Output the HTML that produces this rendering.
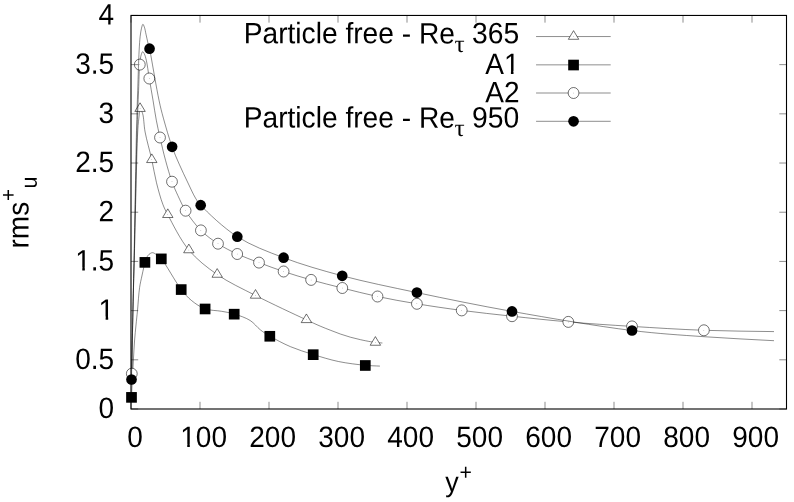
<!DOCTYPE html>
<html><head><meta charset="utf-8"><title>rms u+ profile</title>
<style>
html,body{margin:0;padding:0;background:#fff;}
body{width:794px;height:502px;overflow:hidden;}
svg{display:block;}
text{font-family:"Liberation Sans",sans-serif;font-size:28px;fill:#000;text-rendering:geometricPrecision;}
.sym{font-family:"Liberation Serif",serif;}
</style></head><body>
<svg width="794" height="502" viewBox="0 0 794 502">
<rect x="0" y="0" width="794" height="502" fill="#fff"/>
<text transform="translate(135.00,447.00) rotate(0.03) scale(1.000,1.055)" text-anchor="middle">0</text>
<text transform="translate(203.60,447.00) rotate(0.03) scale(1.000,1.055)" text-anchor="middle">100</text>
<text transform="translate(272.60,447.00) rotate(0.03) scale(1.000,1.055)" text-anchor="middle">200</text>
<text transform="translate(341.60,447.00) rotate(0.03) scale(1.000,1.055)" text-anchor="middle">300</text>
<text transform="translate(410.60,447.00) rotate(0.03) scale(1.000,1.055)" text-anchor="middle">400</text>
<text transform="translate(479.60,447.00) rotate(0.03) scale(1.000,1.055)" text-anchor="middle">500</text>
<text transform="translate(548.60,447.00) rotate(0.03) scale(1.000,1.055)" text-anchor="middle">600</text>
<text transform="translate(617.60,447.00) rotate(0.03) scale(1.000,1.055)" text-anchor="middle">700</text>
<text transform="translate(686.60,447.00) rotate(0.03) scale(1.000,1.055)" text-anchor="middle">800</text>
<text transform="translate(755.60,447.00) rotate(0.03) scale(1.000,1.055)" text-anchor="middle">900</text>
<text transform="translate(114.20,418.10) rotate(0.03) scale(1.000,1.055)" text-anchor="end">0</text>
<text transform="translate(114.20,368.91) rotate(0.03) scale(1.000,1.055)" text-anchor="end">0.5</text>
<text transform="translate(114.20,319.71) rotate(0.03) scale(1.000,1.055)" text-anchor="end">1</text>
<text transform="translate(114.20,270.52) rotate(0.03) scale(1.000,1.055)" text-anchor="end">1.5</text>
<text transform="translate(114.20,221.32) rotate(0.03) scale(1.000,1.055)" text-anchor="end">2</text>
<text transform="translate(114.20,172.13) rotate(0.03) scale(1.000,1.055)" text-anchor="end">2.5</text>
<text transform="translate(114.20,122.94) rotate(0.03) scale(1.000,1.055)" text-anchor="end">3</text>
<text transform="translate(114.20,73.74) rotate(0.03) scale(1.000,1.055)" text-anchor="end">3.5</text>
<text transform="translate(114.20,24.55) rotate(0.03) scale(1.000,1.055)" text-anchor="end">4</text>
<text transform="translate(445.30,491.45) rotate(0.03) scale(0.960,1.000)" text-anchor="start">y</text>
<text transform="translate(459.55,479.85) rotate(0.03) scale(1.000,1.055)" text-anchor="start" style="font-size:21.2px">+</text>
<g transform="translate(28.5,248.5) rotate(-90)">
<text transform="translate(0.00,0.00) rotate(0.03) scale(1.000,1.055)" text-anchor="start">rms</text>
<text transform="translate(47.60,-13.00) rotate(0.03) scale(1.000,1.055)" text-anchor="start" style="font-size:20.6px">+</text>
<text transform="translate(59.90,8.30) rotate(0.03) scale(1.000,1.055)" text-anchor="start" style="font-size:21.4px">u</text>
</g>
<rect x="99.96" y="316.61" width="5.66" height="3.66" fill="#fff"/><rect x="108.19" y="316.61" width="5.49" height="3.66" fill="#fff"/>
<rect x="76.61" y="267.41" width="5.66" height="3.66" fill="#fff"/><rect x="84.84" y="267.41" width="5.49" height="3.66" fill="#fff"/>
<rect x="181.57" y="443.89" width="5.66" height="3.66" fill="#fff"/><rect x="189.81" y="443.89" width="5.49" height="3.66" fill="#fff"/>
<g>
<path d="M131.50 385.00 C131.73 372.33 131.92 361.11 132.20 347.00 C132.56 329.27 133.08 303.88 133.50 287.00 C133.81 274.67 134.08 267.24 134.40 255.00 C134.83 238.52 135.26 217.03 135.80 197.00 C136.38 175.47 136.92 144.34 137.80 130.00 C138.22 123.20 138.75 118.93 139.20 115.00 C139.49 112.45 139.44 108.81 140.05 108.70 C140.62 108.60 141.89 111.29 142.60 113.50 C143.92 117.59 143.83 125.24 145.10 132.00 C146.67 140.36 149.83 150.96 151.80 159.80 C153.58 167.81 154.64 175.31 156.50 182.80 C158.32 190.10 160.58 198.39 162.80 204.20 C164.40 208.41 165.41 210.28 167.80 214.75 C172.28 223.14 180.36 239.89 188.85 250.00 C196.96 259.66 206.61 267.15 217.20 274.50 C228.63 282.43 241.73 288.39 255.50 295.45 C271.16 303.48 294.78 314.42 306.40 319.85 C312.41 322.66 315.91 324.28 320.15 326.10 C323.74 327.64 326.84 328.83 330.20 330.15 C333.56 331.47 336.92 332.82 340.30 334.00 C343.65 335.17 347.02 336.25 350.40 337.20 C353.75 338.14 357.13 338.95 360.50 339.70 C363.83 340.45 367.75 341.20 370.50 341.70 C372.42 342.05 373.62 342.29 375.40 342.50 C377.52 342.75 380.07 342.83 382.40 343.00" fill="none" stroke="#000" stroke-width="0.45"/>
<line x1="536.05" y1="36.55" x2="610.7" y2="36.55" stroke="#000" stroke-width="0.45"/>
<path d="M573.55 30.65 L568.35 39.30 L578.75 39.30 Z" fill="#fff" stroke="#000" stroke-width="0.56"/><circle cx="573.55" cy="36.55" r="0.25" fill="#000"/>
<path d="M140.05 102.80 L134.85 111.45 L145.25 111.45 Z" fill="#fff" stroke="#000" stroke-width="0.56"/><circle cx="140.05" cy="108.70" r="0.25" fill="#000"/><path d="M151.80 153.90 L146.60 162.55 L157.00 162.55 Z" fill="#fff" stroke="#000" stroke-width="0.56"/><circle cx="151.80" cy="159.80" r="0.25" fill="#000"/><path d="M167.80 208.85 L162.60 217.50 L173.00 217.50 Z" fill="#fff" stroke="#000" stroke-width="0.56"/><circle cx="167.80" cy="214.75" r="0.25" fill="#000"/><path d="M188.85 244.10 L183.65 252.75 L194.05 252.75 Z" fill="#fff" stroke="#000" stroke-width="0.56"/><circle cx="188.85" cy="250.00" r="0.25" fill="#000"/><path d="M217.20 268.60 L212.00 277.25 L222.40 277.25 Z" fill="#fff" stroke="#000" stroke-width="0.56"/><circle cx="217.20" cy="274.50" r="0.25" fill="#000"/><path d="M255.50 289.55 L250.30 298.20 L260.70 298.20 Z" fill="#fff" stroke="#000" stroke-width="0.56"/><circle cx="255.50" cy="295.45" r="0.25" fill="#000"/><path d="M306.40 313.95 L301.20 322.60 L311.60 322.60 Z" fill="#fff" stroke="#000" stroke-width="0.56"/><circle cx="306.40" cy="319.85" r="0.25" fill="#000"/><path d="M375.40 336.60 L370.20 345.25 L380.60 345.25 Z" fill="#fff" stroke="#000" stroke-width="0.56"/><circle cx="375.40" cy="342.50" r="0.25" fill="#000"/>
</g>
<g>
<path d="M131.50 397.20 C131.77 391.47 132.00 385.95 132.30 380.00 C132.63 373.58 133.02 366.67 133.40 360.00 C133.78 353.33 134.13 346.18 134.60 340.00 C135.01 334.64 135.51 329.97 136.00 325.00 C136.48 320.10 136.97 315.81 137.50 310.40 C138.16 303.62 138.68 293.81 139.60 287.50 C140.26 282.99 141.15 279.56 141.90 276.00 C142.55 272.89 143.25 269.82 143.80 267.30 C144.22 265.37 144.29 264.00 144.90 262.20 C145.64 260.01 146.74 256.82 148.20 255.20 C149.35 253.92 150.87 252.77 152.30 252.70 C153.80 252.63 155.53 254.03 157.00 255.00 C158.53 256.01 159.53 256.68 161.30 258.70 C165.79 263.84 175.36 281.89 181.20 289.40 C184.96 294.23 187.58 297.30 191.50 300.50 C195.52 303.79 200.14 307.00 205.10 308.80 C210.19 310.65 216.57 310.36 221.70 311.30 C226.18 312.12 229.84 312.65 234.20 314.00 C239.27 315.56 245.69 317.64 250.20 320.50 C254.22 323.05 256.88 327.12 260.30 329.80 C263.42 332.25 265.95 333.85 269.80 336.10 C275.30 339.32 283.33 343.65 290.50 346.70 C297.79 349.80 305.40 352.08 313.20 354.50 C321.34 357.03 329.80 359.71 338.40 361.50 C347.16 363.33 357.68 364.55 365.30 365.30 C370.89 365.85 375.03 365.83 379.90 366.10" fill="none" stroke="#000" stroke-width="0.45"/>
<line x1="536.05" y1="64.85" x2="610.7" y2="64.85" stroke="#000" stroke-width="0.45"/>
<rect x="568.20" y="59.70" width="10.70" height="10.65" fill="#000"/>
<rect x="126.15" y="392.05" width="10.70" height="10.65" fill="#000"/><rect x="139.55" y="257.05" width="10.70" height="10.65" fill="#000"/><rect x="155.95" y="253.55" width="10.70" height="10.65" fill="#000"/><rect x="175.85" y="284.25" width="10.70" height="10.65" fill="#000"/><rect x="199.75" y="303.65" width="10.70" height="10.65" fill="#000"/><rect x="228.85" y="308.85" width="10.70" height="10.65" fill="#000"/><rect x="264.45" y="330.95" width="10.70" height="10.65" fill="#000"/><rect x="307.85" y="349.35" width="10.70" height="10.65" fill="#000"/><rect x="359.95" y="360.15" width="10.70" height="10.65" fill="#000"/>
</g>
<g>
<path d="M131.80 373.70 C131.93 364.87 132.00 357.81 132.20 347.20 C132.49 331.23 133.11 304.08 133.50 287.20 C133.79 274.87 134.02 267.44 134.30 255.20 C134.68 238.72 135.05 217.23 135.50 197.20 C135.98 175.67 136.50 149.67 137.10 130.20 C137.56 115.15 138.12 102.05 138.60 90.20 C138.98 80.72 139.06 71.11 139.70 64.60 C140.10 60.55 140.48 57.11 141.20 54.80 C141.62 53.44 142.14 51.76 142.70 51.70 C143.19 51.65 143.81 52.85 144.30 53.80 C145.08 55.31 145.66 57.49 146.30 60.20 C147.37 64.71 148.24 72.14 149.30 78.50 C150.46 85.43 151.81 93.11 153.00 100.20 C154.14 107.00 155.09 113.79 156.30 120.20 C157.43 126.19 158.60 131.35 160.00 137.50 C161.61 144.56 163.48 152.76 165.50 160.20 C167.48 167.49 169.71 175.37 172.00 181.70 C173.88 186.89 175.71 190.91 177.90 195.60 C180.22 200.57 182.29 205.50 185.60 210.70 C189.61 217.01 195.27 224.77 200.90 230.40 C206.14 235.65 211.96 239.77 218.00 243.70 C224.06 247.64 230.50 250.90 237.20 254.00 C244.15 257.22 251.49 259.76 259.00 262.60 C266.93 265.60 275.13 268.68 283.60 271.50 C292.48 274.46 301.61 277.22 311.10 279.90 C321.14 282.74 331.57 285.31 342.30 288.00 C353.67 290.85 365.40 293.92 377.50 296.50 C390.23 299.21 403.32 301.54 416.90 303.80 C431.33 306.20 446.32 308.38 461.70 310.40 C477.97 312.54 494.75 314.33 512.00 316.20 C530.23 318.17 548.94 320.24 568.30 321.90 C588.87 323.67 610.12 325.03 632.00 326.40 C655.24 327.85 680.08 329.43 703.90 330.30 C727.41 331.16 750.63 331.17 774.00 331.60" fill="none" stroke="#000" stroke-width="0.45"/>
<line x1="536.05" y1="93.00" x2="610.7" y2="93.00" stroke="#000" stroke-width="0.45"/>
<ellipse cx="573.55" cy="93.00" rx="5.4" ry="5.5" fill="#fff" stroke="#000" stroke-width="0.56"/><circle cx="573.55" cy="93.00" r="0.25" fill="#000"/>
<ellipse cx="131.80" cy="373.70" rx="5.4" ry="5.5" fill="#fff" stroke="#000" stroke-width="0.56"/><circle cx="131.80" cy="373.70" r="0.25" fill="#000"/><ellipse cx="139.80" cy="64.60" rx="5.4" ry="5.5" fill="#fff" stroke="#000" stroke-width="0.56"/><circle cx="139.80" cy="64.60" r="0.25" fill="#000"/><ellipse cx="149.30" cy="78.50" rx="5.4" ry="5.5" fill="#fff" stroke="#000" stroke-width="0.56"/><circle cx="149.30" cy="78.50" r="0.25" fill="#000"/><ellipse cx="160.00" cy="137.50" rx="5.4" ry="5.5" fill="#fff" stroke="#000" stroke-width="0.56"/><circle cx="160.00" cy="137.50" r="0.25" fill="#000"/><ellipse cx="172.00" cy="181.70" rx="5.4" ry="5.5" fill="#fff" stroke="#000" stroke-width="0.56"/><circle cx="172.00" cy="181.70" r="0.25" fill="#000"/><ellipse cx="185.60" cy="210.70" rx="5.4" ry="5.5" fill="#fff" stroke="#000" stroke-width="0.56"/><circle cx="185.60" cy="210.70" r="0.25" fill="#000"/><ellipse cx="200.90" cy="230.40" rx="5.4" ry="5.5" fill="#fff" stroke="#000" stroke-width="0.56"/><circle cx="200.90" cy="230.40" r="0.25" fill="#000"/><ellipse cx="218.00" cy="243.70" rx="5.4" ry="5.5" fill="#fff" stroke="#000" stroke-width="0.56"/><circle cx="218.00" cy="243.70" r="0.25" fill="#000"/><ellipse cx="237.20" cy="254.00" rx="5.4" ry="5.5" fill="#fff" stroke="#000" stroke-width="0.56"/><circle cx="237.20" cy="254.00" r="0.25" fill="#000"/><ellipse cx="259.00" cy="262.60" rx="5.4" ry="5.5" fill="#fff" stroke="#000" stroke-width="0.56"/><circle cx="259.00" cy="262.60" r="0.25" fill="#000"/><ellipse cx="283.60" cy="271.50" rx="5.4" ry="5.5" fill="#fff" stroke="#000" stroke-width="0.56"/><circle cx="283.60" cy="271.50" r="0.25" fill="#000"/><ellipse cx="311.10" cy="279.90" rx="5.4" ry="5.5" fill="#fff" stroke="#000" stroke-width="0.56"/><circle cx="311.10" cy="279.90" r="0.25" fill="#000"/><ellipse cx="342.30" cy="288.00" rx="5.4" ry="5.5" fill="#fff" stroke="#000" stroke-width="0.56"/><circle cx="342.30" cy="288.00" r="0.25" fill="#000"/><ellipse cx="377.50" cy="296.50" rx="5.4" ry="5.5" fill="#fff" stroke="#000" stroke-width="0.56"/><circle cx="377.50" cy="296.50" r="0.25" fill="#000"/><ellipse cx="416.90" cy="303.80" rx="5.4" ry="5.5" fill="#fff" stroke="#000" stroke-width="0.56"/><circle cx="416.90" cy="303.80" r="0.25" fill="#000"/><ellipse cx="461.70" cy="310.40" rx="5.4" ry="5.5" fill="#fff" stroke="#000" stroke-width="0.56"/><circle cx="461.70" cy="310.40" r="0.25" fill="#000"/><ellipse cx="512.00" cy="316.20" rx="5.4" ry="5.5" fill="#fff" stroke="#000" stroke-width="0.56"/><circle cx="512.00" cy="316.20" r="0.25" fill="#000"/><ellipse cx="568.30" cy="321.90" rx="5.4" ry="5.5" fill="#fff" stroke="#000" stroke-width="0.56"/><circle cx="568.30" cy="321.90" r="0.25" fill="#000"/><ellipse cx="632.00" cy="326.40" rx="5.4" ry="5.5" fill="#fff" stroke="#000" stroke-width="0.56"/><circle cx="632.00" cy="326.40" r="0.25" fill="#000"/><ellipse cx="703.90" cy="330.30" rx="5.4" ry="5.5" fill="#fff" stroke="#000" stroke-width="0.56"/><circle cx="703.90" cy="330.30" r="0.25" fill="#000"/>
</g>
<g>
<path d="M131.50 379.50 C131.70 368.73 131.85 359.62 132.10 347.20 C132.44 330.27 133.03 304.08 133.40 287.20 C133.67 274.87 133.85 267.44 134.10 255.20 C134.44 238.72 134.82 217.23 135.20 197.20 C135.61 175.67 136.02 149.67 136.50 130.20 C136.87 115.16 137.26 103.53 137.70 90.20 C138.14 76.87 138.60 60.11 139.15 50.20 C139.48 44.33 139.72 40.21 140.20 36.20 C140.56 33.15 140.94 30.37 141.50 28.20 C141.90 26.65 142.38 24.33 142.90 24.30 C143.36 24.27 143.96 25.99 144.40 27.20 C145.06 29.00 145.44 31.72 146.00 34.20 C146.63 37.01 147.34 40.58 148.00 43.20 C148.52 45.27 149.10 46.78 149.55 48.70 C150.04 50.77 150.21 52.06 150.80 55.20 C152.35 63.46 156.53 88.61 159.00 100.20 C160.57 107.58 161.57 111.54 163.40 118.20 C165.72 126.66 169.15 138.52 172.10 146.80 C174.43 153.35 176.63 158.24 179.20 164.10 C181.91 170.29 185.15 177.07 188.00 183.00 C190.57 188.33 193.06 194.09 195.50 198.10 C197.26 201.00 197.93 202.20 200.70 205.20 C207.20 212.23 223.70 228.02 237.30 236.70 C251.26 245.61 267.05 251.42 283.60 257.70 C301.78 264.60 321.37 270.25 342.20 275.80 C365.48 282.00 390.46 287.01 416.90 292.60 C446.65 298.88 478.40 305.41 512.00 311.40 C549.62 318.11 597.03 326.21 632.00 330.50 C658.95 333.80 680.07 334.99 703.90 336.70 C727.40 338.38 750.63 339.37 774.00 340.70" fill="none" stroke="#000" stroke-width="0.45"/>
<line x1="536.05" y1="121.30" x2="610.7" y2="121.30" stroke="#000" stroke-width="0.45"/>
<circle cx="573.55" cy="121.30" r="5.33" fill="#000"/>
<circle cx="131.50" cy="379.50" r="5.33" fill="#000"/><circle cx="149.55" cy="48.70" r="5.33" fill="#000"/><circle cx="172.10" cy="146.80" r="5.33" fill="#000"/><circle cx="200.70" cy="205.20" r="5.33" fill="#000"/><circle cx="237.30" cy="236.70" r="5.33" fill="#000"/><circle cx="283.60" cy="257.70" r="5.33" fill="#000"/><circle cx="342.20" cy="275.80" r="5.33" fill="#000"/><circle cx="416.90" cy="292.60" r="5.33" fill="#000"/><circle cx="512.00" cy="311.40" r="5.33" fill="#000"/><circle cx="632.00" cy="330.50" r="5.33" fill="#000"/>
</g>
<text transform="translate(243.75,43.30) rotate(0.03) scale(1.005,1.055)" text-anchor="start">Particle free - Re</text>
<text class="sym" transform="translate(459.55,52.05) scale(1.04,1)" text-anchor="middle" style="font-size:24.3px">τ</text>
<text transform="translate(519.30,43.30) rotate(0.03) scale(1.010,1.055)" text-anchor="end">365</text>
<text transform="translate(519.50,74.00) rotate(0.03) scale(1.000,1.055)" text-anchor="end">A1</text>
<rect x="505.26" y="70.89" width="5.66" height="3.66" fill="#fff"/><rect x="513.49" y="70.89" width="5.49" height="3.66" fill="#fff"/>
<text transform="translate(519.50,102.15) rotate(0.03) scale(1.000,1.055)" text-anchor="end">A2</text>
<text transform="translate(243.75,127.55) rotate(0.03) scale(1.005,1.055)" text-anchor="start">Particle free - Re</text>
<text class="sym" transform="translate(459.55,136.30) scale(1.04,1)" text-anchor="middle" style="font-size:24.3px">τ</text>
<text transform="translate(519.30,127.55) rotate(0.03) scale(1.010,1.055)" text-anchor="end">950</text>
<g stroke="#000" stroke-width="0.45" fill="none">
<line x1="131.00" y1="409.00" x2="131.00" y2="401.80"/><line x1="131.00" y1="15.45" x2="131.00" y2="22.65"/>
<line x1="200.00" y1="409.00" x2="200.00" y2="401.80"/><line x1="200.00" y1="15.45" x2="200.00" y2="22.65"/>
<line x1="269.00" y1="409.00" x2="269.00" y2="401.80"/><line x1="269.00" y1="15.45" x2="269.00" y2="22.65"/>
<line x1="338.00" y1="409.00" x2="338.00" y2="401.80"/><line x1="338.00" y1="15.45" x2="338.00" y2="22.65"/>
<line x1="407.00" y1="409.00" x2="407.00" y2="401.80"/><line x1="407.00" y1="15.45" x2="407.00" y2="22.65"/>
<line x1="476.00" y1="409.00" x2="476.00" y2="401.80"/><line x1="476.00" y1="15.45" x2="476.00" y2="22.65"/>
<line x1="545.00" y1="409.00" x2="545.00" y2="401.80"/><line x1="545.00" y1="15.45" x2="545.00" y2="22.65"/>
<line x1="614.00" y1="409.00" x2="614.00" y2="401.80"/><line x1="614.00" y1="15.45" x2="614.00" y2="22.65"/>
<line x1="683.00" y1="409.00" x2="683.00" y2="401.80"/><line x1="683.00" y1="15.45" x2="683.00" y2="22.65"/>
<line x1="752.00" y1="409.00" x2="752.00" y2="401.80"/><line x1="752.00" y1="15.45" x2="752.00" y2="22.65"/>
<line x1="131.00" y1="409.00" x2="138.20" y2="409.00"/><line x1="786.50" y1="409.00" x2="779.30" y2="409.00"/>
<line x1="131.00" y1="359.81" x2="138.20" y2="359.81"/><line x1="786.50" y1="359.81" x2="779.30" y2="359.81"/>
<line x1="131.00" y1="310.61" x2="138.20" y2="310.61"/><line x1="786.50" y1="310.61" x2="779.30" y2="310.61"/>
<line x1="131.00" y1="261.42" x2="138.20" y2="261.42"/><line x1="786.50" y1="261.42" x2="779.30" y2="261.42"/>
<line x1="131.00" y1="212.22" x2="138.20" y2="212.22"/><line x1="786.50" y1="212.22" x2="779.30" y2="212.22"/>
<line x1="131.00" y1="163.03" x2="138.20" y2="163.03"/><line x1="786.50" y1="163.03" x2="779.30" y2="163.03"/>
<line x1="131.00" y1="113.84" x2="138.20" y2="113.84"/><line x1="786.50" y1="113.84" x2="779.30" y2="113.84"/>
<line x1="131.00" y1="64.64" x2="138.20" y2="64.64"/><line x1="786.50" y1="64.64" x2="779.30" y2="64.64"/>
<line x1="131.00" y1="15.45" x2="138.20" y2="15.45"/><line x1="786.50" y1="15.45" x2="779.30" y2="15.45"/>
</g>
<rect x="131.00" y="15.45" width="655.50" height="393.55" fill="none" stroke="#000" stroke-width="1.1"/>
</svg>
</body></html>
